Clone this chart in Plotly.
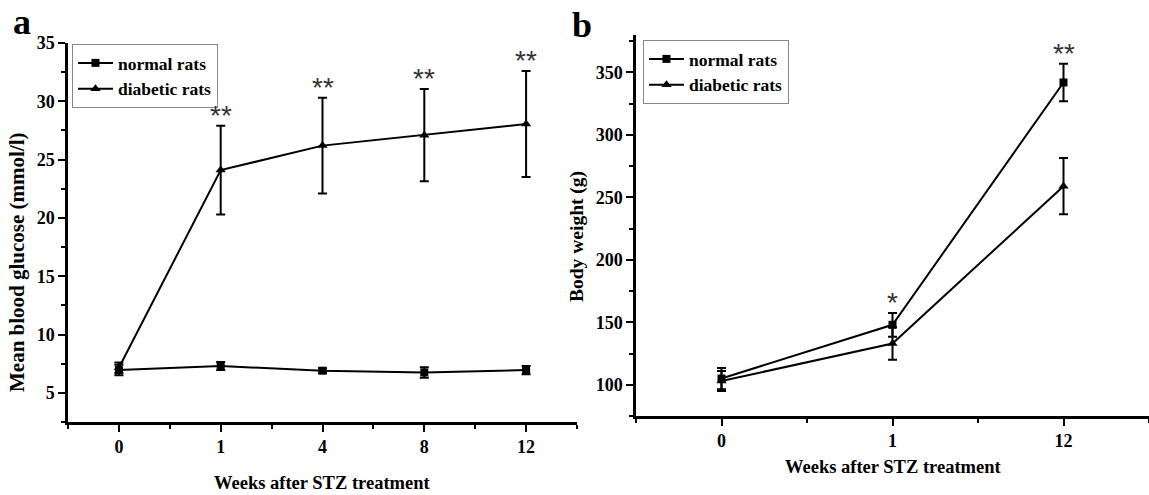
import plotly.graph_objects as go

# ---------------- data ----------------
weeks_a = ["0", "1", "4", "8", "12"]
normal_a = [6.95, 7.3, 6.9, 6.75, 6.95]
normal_a_err = [0.45, 0.35, 0.2, 0.45, 0.35]
diabetic_a = [7.15, 24.1, 26.2, 27.1, 28.05]
diabetic_a_err = [0.45, 3.8, 4.1, 3.95, 4.55]
sig_a = ["", "**", "**", "**", "**"]

weeks_b = ["0", "1", "12"]
normal_b = [105, 148, 342]
normal_b_err = [8.5, 9.5, 15]
diabetic_b = [103, 133, 259]
diabetic_b_err = [8, 13, 22.5]
sig_b = ["", "*", "**"]

series_names = ["normal rats", "diabetic rats"]
x_title = "Weeks after STZ treatment"
y_title_a = "Mean blood glucose (mmol/l)"
y_title_b = "Body weight (g)"

# ---------------- style ----------------
W, H = 1149, 495
SERIF = "Liberation Serif, Times New Roman, serif"
BLACK = "black"


def px_x(p):
    return p / W


def px_y(p):
    return 1 - p / H


fig = go.Figure()

xa = list(range(len(weeks_a)))
xb = list(range(len(weeks_b)))


def add_series(x, y, err, name, symbol, msize, xaxis, yaxis, legend):
    fig.add_trace(go.Scatter(
        x=x, y=y, name=name, mode="lines+markers",
        line=dict(color=BLACK, width=2),
        marker=dict(symbol=symbol, size=msize, color=BLACK),
        error_y=dict(type="data", array=err, visible=True,
                     color=BLACK, thickness=2, width=4.5),
        xaxis=xaxis, yaxis=yaxis, legend=legend,
    ))


add_series(xa, normal_a, normal_a_err, series_names[0], "square", 8, "x", "y", "legend")
add_series(xa, diabetic_a, diabetic_a_err, series_names[1], "triangle-up", 9, "x", "y", "legend")
add_series(xb, normal_b, normal_b_err, series_names[0], "square", 8, "x2", "y2", "legend2")
add_series(xb, diabetic_b, diabetic_b_err, series_names[1], "triangle-up", 9, "x2", "y2", "legend2")

# significance marks
annotations = []
for xs, s, n, ne, d, de, xr, yr in [
    (xa, sig_a, normal_a, normal_a_err, diabetic_a, diabetic_a_err, "x", "y"),
    (xb, sig_b, normal_b, normal_b_err, diabetic_b, diabetic_b_err, "x2", "y2"),
]:
    for i, mark in enumerate(s):
        if not mark:
            continue
        top = max(n[i] + ne[i], d[i] + de[i])
        annotations.append(dict(
            x=xs[i], y=top, xref=xr, yref=yr, text=mark, showarrow=False,
            yanchor="bottom", xanchor="center", yshift=-7,
            font=dict(family="Liberation Sans, Arial, sans-serif", size=28, color="#333"),
        ))

# panel letters
letter_font = dict(family=SERIF, size=36, color=BLACK, weight="bold")
annotations.append(dict(x=px_x(11), y=1.0, xref="paper", yref="paper", text="a",
                        showarrow=False, xanchor="left", yanchor="top", font=letter_font))
annotations.append(dict(x=px_x(570), y=px_y(2.5), xref="paper", yref="paper", text="b",
                        showarrow=False, xanchor="left", yanchor="top", font=letter_font))

# axis titles
title_font = dict(family=SERIF, size=18.5, color=BLACK, weight="bold")
annotations.append(dict(x=px_x(17), y=px_y(262), xref="paper", yref="paper", text=y_title_a,
                        showarrow=False, textangle=-90, xanchor="center", yanchor="middle",
                        font=dict(family=SERIF, size=21, color=BLACK, weight="bold")))
annotations.append(dict(x=px_x(577), y=px_y(237), xref="paper", yref="paper", text=y_title_b,
                        showarrow=False, textangle=-90, xanchor="center", yanchor="middle",
                        font=dict(family=SERIF, size=19.5, color=BLACK, weight="bold")))
annotations.append(dict(x=px_x(322), y=px_y(483), xref="paper", yref="paper", text=x_title,
                        showarrow=False, xanchor="center", yanchor="middle", font=title_font))
annotations.append(dict(x=px_x(893), y=px_y(467), xref="paper", yref="paper", text=x_title,
                        showarrow=False, xanchor="center", yanchor="middle", font=title_font))

tickfont = dict(family=SERIF, size=18, color=BLACK, weight="bold")
legfont = dict(family=SERIF, size=17.5, color=BLACK, weight="bold")

axis_common = dict(
    showline=True, linecolor=BLACK, linewidth=2.5, mirror=False,
    showgrid=False, zeroline=False, automargin=False,
    ticks="outside", ticklen=7, tickwidth=2, tickcolor=BLACK,
    tickfont=tickfont,
)
minor_common = dict(ticks="outside", ticklen=4, tickwidth=2, tickcolor=BLACK)

fig.update_layout(
    width=W, height=H,
    margin=dict(l=0, r=0, t=0, b=0, pad=0, autoexpand=False),
    paper_bgcolor="white", plot_bgcolor="white",
    showlegend=True,
    xaxis=dict(
        domain=[px_x(68), px_x(577)], anchor="y",
        range=[-0.5, len(weeks_a) - 0.5],
        tickmode="array", tickvals=xa, ticktext=weeks_a,
        minor=dict(tickmode="linear", tick0=-0.5, dtick=1, **minor_common),
        **axis_common,
    ),
    yaxis=dict(
        domain=[px_y(422), px_y(43)], anchor="x",
        range=[2.5, 35], tickmode="linear", tick0=0, dtick=5,
        minor=dict(tickmode="linear", tick0=2.5, dtick=5, **minor_common),
        **axis_common,
    ),
    xaxis2=dict(
        domain=[px_x(636), 1.0], anchor="y2",
        range=[-0.5, len(weeks_b) - 0.5],
        tickmode="array", tickvals=xb, ticktext=weeks_b,
        minor=dict(tickmode="linear", tick0=-0.5, dtick=1, **minor_common),
        **axis_common,
    ),
    yaxis2=dict(
        domain=[px_y(416), px_y(35)], anchor="x2",
        range=[75, 380], tickmode="linear", tick0=0, dtick=50,
        minor=dict(tickmode="linear", tick0=25, dtick=50, **minor_common),
        **axis_common,
    ),
    legend=dict(
        x=px_x(72), y=px_y(44), xanchor="left", yanchor="top",
        bordercolor="#888", borderwidth=1, bgcolor="white",
        font=legfont, tracegroupgap=0, itemwidth=35,
    ),
    legend2=dict(
        x=px_x(643), y=px_y(40), xanchor="left", yanchor="top",
        bordercolor="#888", borderwidth=1, bgcolor="white",
        font=legfont, tracegroupgap=0, itemwidth=35,
    ),
    annotations=annotations,
)

fig.write_html("out.html")
